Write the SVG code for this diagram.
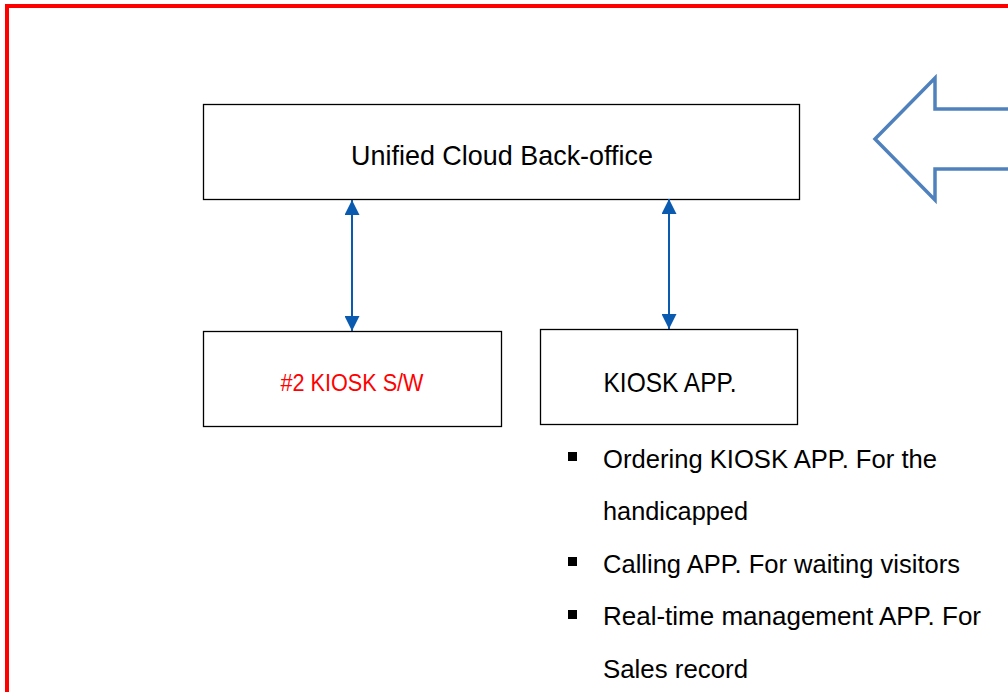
<svg xmlns="http://www.w3.org/2000/svg" width="1008" height="692" viewBox="0 0 1008 692">
<style>
.box{fill:#fff;stroke:#000;stroke-width:1.3}
.t{font-family:"Liberation Sans","Noto Sans",sans-serif;fill:#000}
.conn{stroke:#0a5bb0;stroke-width:2;fill:none}
</style>
<defs>
<marker id="ah" viewBox="0 0 10 10" refX="10" refY="5" markerWidth="7.5" markerHeight="7.5" orient="auto-start-reverse" markerUnits="strokeWidth">
<path d="M0,0 L10,5 L0,10 z" fill="#0a5bb0"/>
</marker>
</defs>
<rect width="1008" height="692" fill="#fff"/>
<rect x="7" y="6" width="1010" height="700" fill="none" stroke="#ff0000" stroke-width="4"/>
<g id="big-arrow">
<path d="M1012,109 L935,109 L935,78 L875,139 L935,200 L935,169 L1012,169" fill="none" stroke="#4f81bd" stroke-width="3.5" stroke-linejoin="miter"/>
</g>
<g id="cloud">
<rect class="box" x="203.5" y="104.5" width="596" height="95"/>
<text class="t" x="502" y="165" font-size="28" text-anchor="middle" textLength="302" lengthAdjust="spacingAndGlyphs">Unified Cloud Back-office</text>
</g>
<g id="kiosk-sw">
<rect class="box" x="203.5" y="331.5" width="298" height="95"/>
<text class="t" x="352" y="391" font-size="23" text-anchor="middle" style="fill:#ff0000" textLength="143" lengthAdjust="spacingAndGlyphs">#2 KIOSK S/W</text>
</g>
<g id="kiosk-app">
<rect class="box" x="540.5" y="329.5" width="257" height="95"/>
<text class="t" x="670" y="392" font-size="28" text-anchor="middle" textLength="133" lengthAdjust="spacingAndGlyphs">KIOSK APP.</text>
</g>
<g id="connectors">
<line class="conn" x1="352" y1="200" x2="352" y2="331" marker-start="url(#ah)" marker-end="url(#ah)"/>
<line class="conn" x1="669" y1="199" x2="669" y2="329" marker-start="url(#ah)" marker-end="url(#ah)"/>
</g>
<g id="bullets">
<rect x="568" y="452" width="9" height="9" fill="#000"/>
<rect x="568" y="557" width="9" height="9" fill="#000"/>
<rect x="568" y="610" width="9" height="9" fill="#000"/>
<text class="t" x="603" y="468" font-size="26" textLength="334" lengthAdjust="spacingAndGlyphs">Ordering KIOSK APP. For the</text>
<text class="t" x="603" y="520" font-size="26" textLength="145" lengthAdjust="spacingAndGlyphs">handicapped</text>
<text class="t" x="603" y="573" font-size="26" textLength="357" lengthAdjust="spacingAndGlyphs">Calling APP. For waiting visitors</text>
<text class="t" x="603" y="625" font-size="26" textLength="378" lengthAdjust="spacingAndGlyphs">Real-time management APP. For</text>
<text class="t" x="603" y="678" font-size="26" textLength="145" lengthAdjust="spacingAndGlyphs">Sales record</text>
</g>
</svg>
